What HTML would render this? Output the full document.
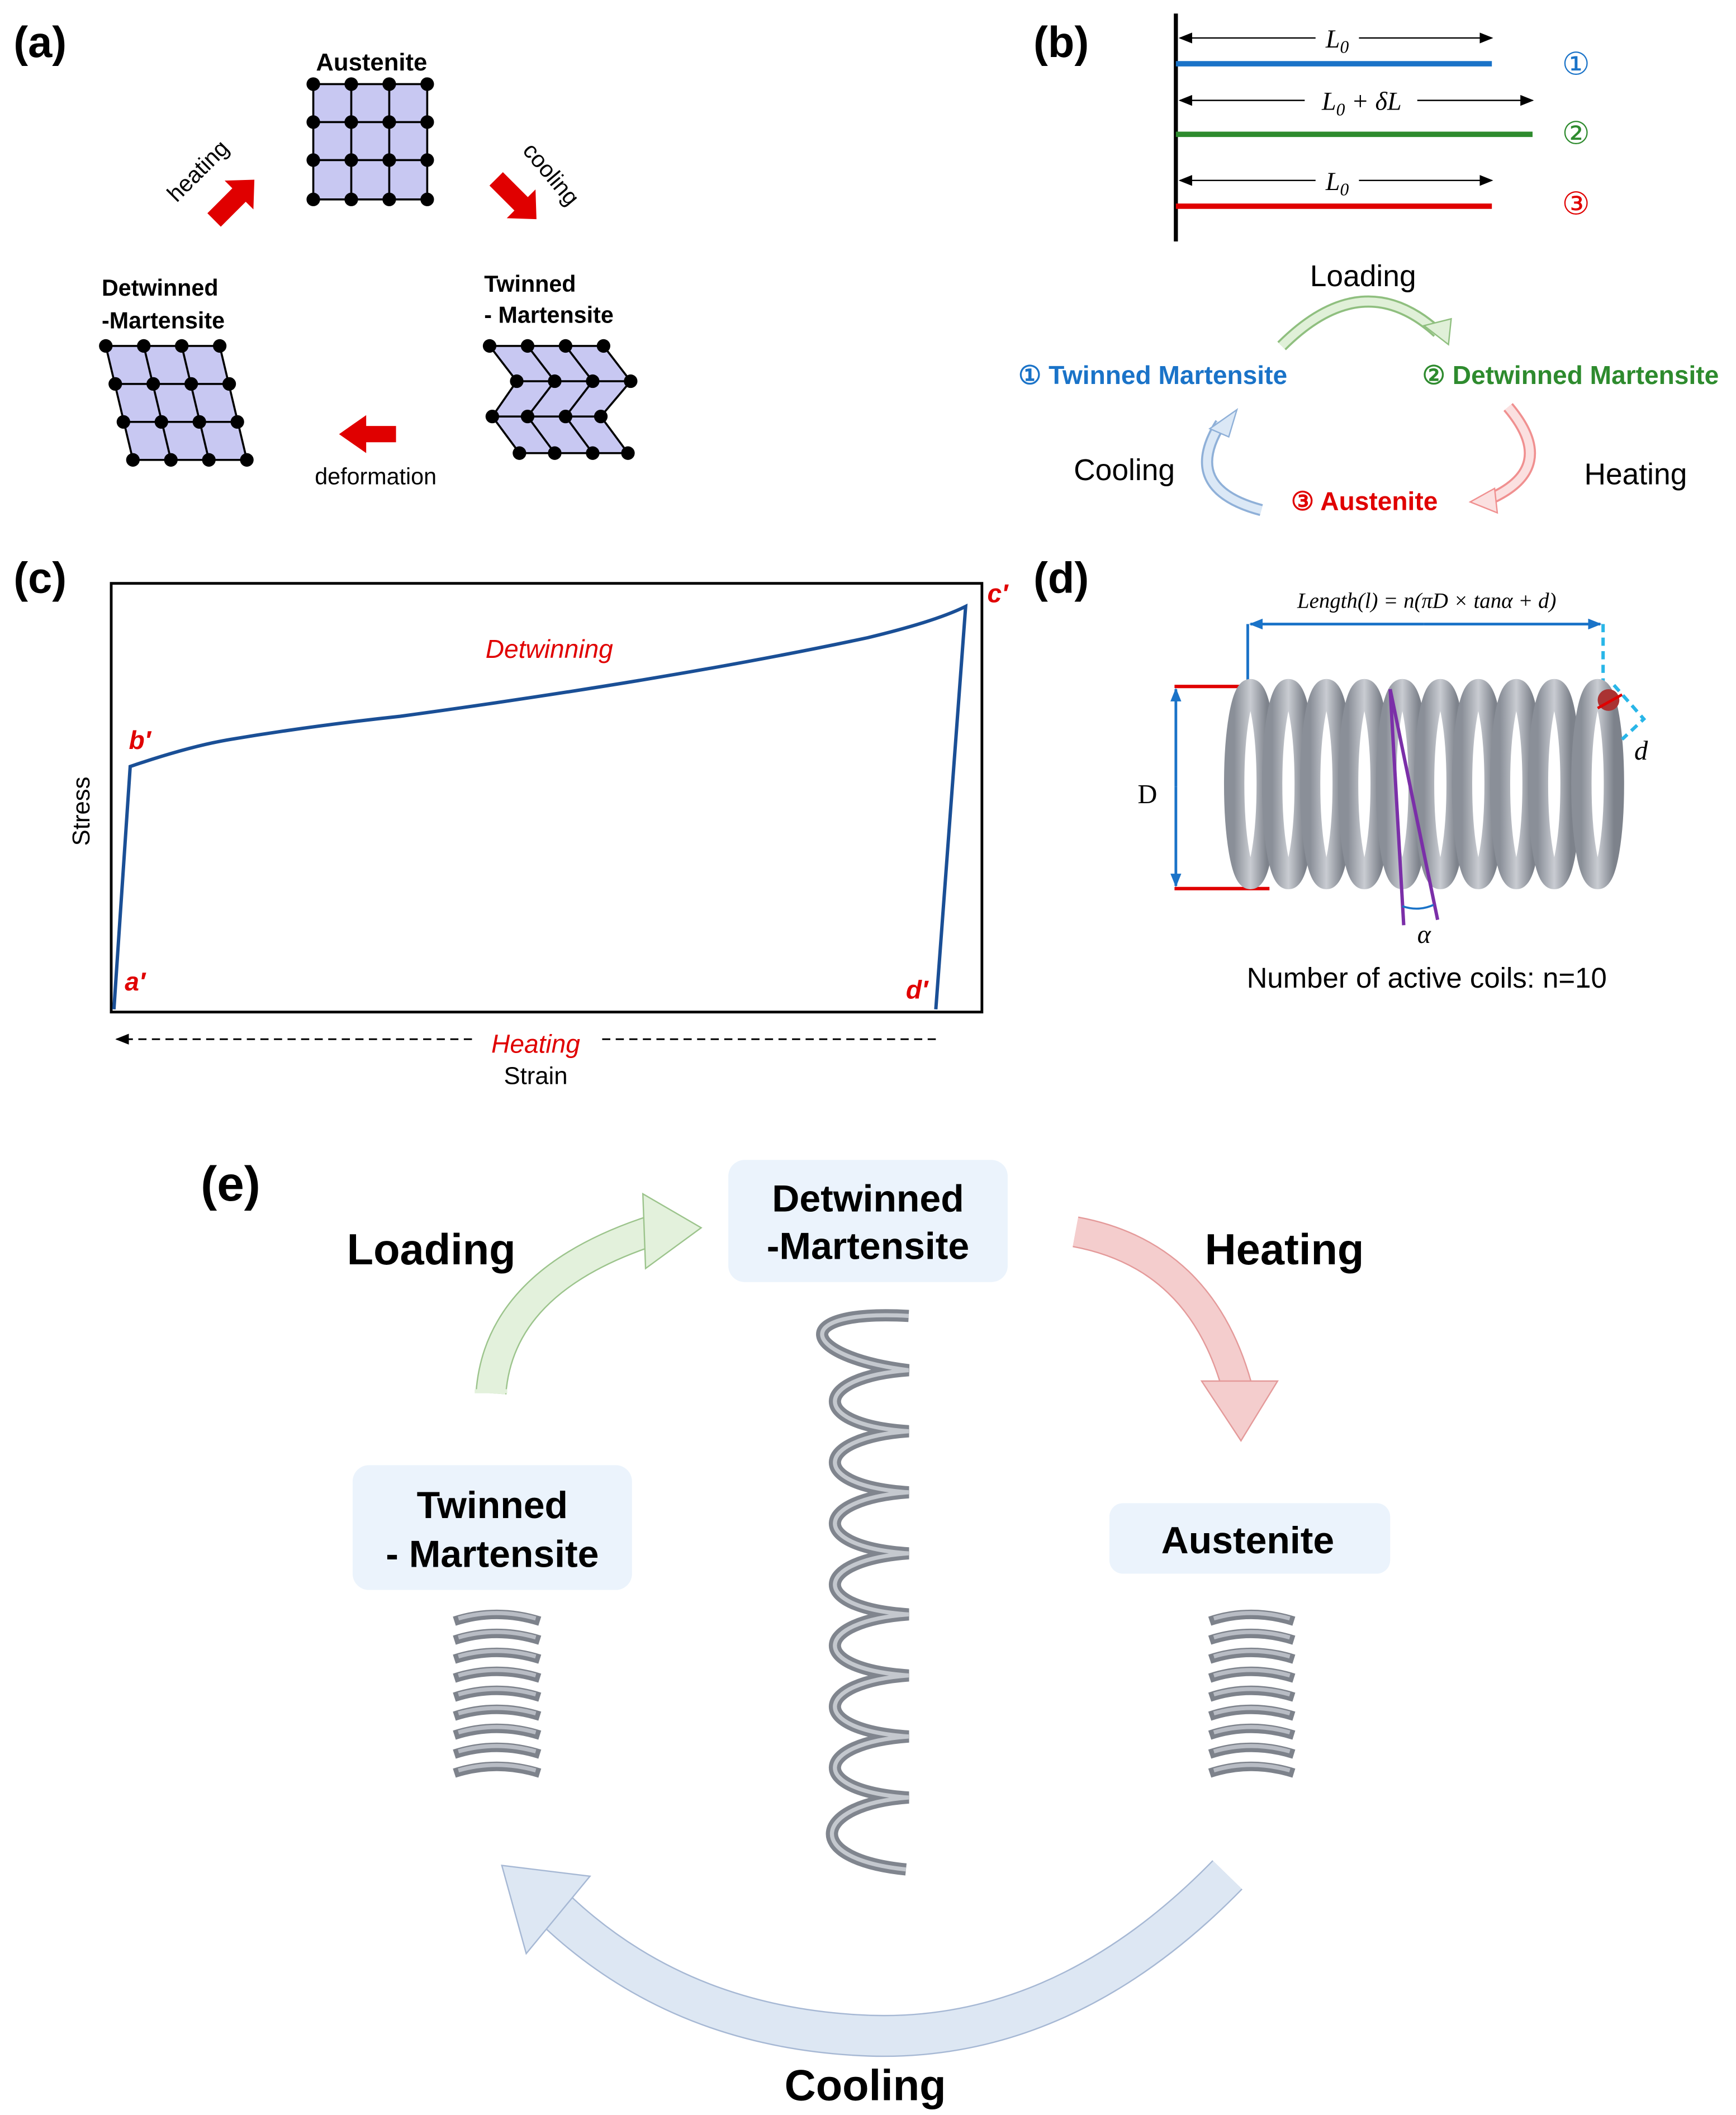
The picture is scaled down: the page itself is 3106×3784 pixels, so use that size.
<!DOCTYPE html>
<html><head><meta charset="utf-8"><style>
html,body{margin:0;padding:0;background:#fff;}
svg{display:block;}
text{font-family:"Liberation Sans",sans-serif;}
.s{font-family:"Liberation Serif",serif;font-style:italic;}
</style></head><body>
<svg width="3106" height="3784" viewBox="0 0 1280 1559" preserveAspectRatio="none" xmlns="http://www.w3.org/2000/svg">
<defs>
<marker id="ah" markerWidth="10" markerHeight="8" refX="9" refY="4" orient="auto" markerUnits="userSpaceOnUse"><path d="M0,0 L10,4 L0,8 z" fill="#000"/></marker>
<marker id="ahb" markerWidth="10" markerHeight="8" refX="9" refY="4" orient="auto" markerUnits="userSpaceOnUse"><path d="M0,0 L10,4 L0,8 z" fill="#1a73c8"/></marker>
<linearGradient id="sg" x1="0" y1="0" x2="1" y2="0"><stop offset="0" stop-color="#8a8f98"/><stop offset="0.5" stop-color="#c9ccd2"/><stop offset="1" stop-color="#7d828b"/></linearGradient>
</defs>

<!-- (a) -->
<text x="10" y="42" font-size="32" font-weight="bold">(a)</text>
<text x="274" y="52" font-size="18" font-weight="bold" text-anchor="middle">Austenite</text>
<g>
<rect x="231" y="62" width="84" height="85" fill="#c8c8f2" stroke="#000" stroke-width="1.5"/>
<path d="M259,62V147M287,62V147M231,90H315M231,118H315" stroke="#000" stroke-width="1.5"/>
<g fill="#000">
<circle cx="231" cy="62" r="5"/><circle cx="259" cy="62" r="5"/><circle cx="287" cy="62" r="5"/><circle cx="315" cy="62" r="5"/>
<circle cx="231" cy="90" r="5"/><circle cx="259" cy="90" r="5"/><circle cx="287" cy="90" r="5"/><circle cx="315" cy="90" r="5"/>
<circle cx="231" cy="118" r="5"/><circle cx="259" cy="118" r="5"/><circle cx="287" cy="118" r="5"/><circle cx="315" cy="118" r="5"/>
<circle cx="231" cy="147" r="5"/><circle cx="259" cy="147" r="5"/><circle cx="287" cy="147" r="5"/><circle cx="315" cy="147" r="5"/>
</g></g>
<g transform="translate(172,148) rotate(-45)"><path d="M-20,-7 H6 V-15 L22,0 L6,15 V7 H-20 z" fill="#e00000"/></g>
<text x="150" y="130" font-size="17" transform="rotate(-45 150 130)" text-anchor="middle">heating</text>
<g transform="translate(380,146) rotate(45)"><path d="M-20,-7 H6 V-15 L22,0 L6,15 V7 H-20 z" fill="#e00000"/></g>
<text x="402" y="132" font-size="17" transform="rotate(50 402 132)" text-anchor="middle">cooling</text>

<text x="75" y="218" font-size="17" font-weight="bold">Detwinned</text>
<text x="75" y="242" font-size="17" font-weight="bold">-Martensite</text>
<g stroke="#000" stroke-width="1.5">
<polygon points="78,255 162,255 182,339 98,339" fill="#c8c8f2"/>
<path d="M106,255L126,339M134,255L154,339M85,283H169M91,311H175" fill="none"/>
</g>
<g fill="#000">
<circle cx="78" cy="255" r="5"/><circle cx="106" cy="255" r="5"/><circle cx="134" cy="255" r="5"/><circle cx="162" cy="255" r="5"/>
<circle cx="85" cy="283" r="5"/><circle cx="113" cy="283" r="5"/><circle cx="141" cy="283" r="5"/><circle cx="169" cy="283" r="5"/>
<circle cx="91" cy="311" r="5"/><circle cx="119" cy="311" r="5"/><circle cx="147" cy="311" r="5"/><circle cx="175" cy="311" r="5"/>
<circle cx="98" cy="339" r="5"/><circle cx="126" cy="339" r="5"/><circle cx="154" cy="339" r="5"/><circle cx="182" cy="339" r="5"/>
</g>

<text x="357" y="215" font-size="17" font-weight="bold">Twinned</text>
<text x="357" y="238" font-size="17" font-weight="bold">- Martensite</text>
<g stroke="#000" stroke-width="1.5">
<polygon points="361,255 445,255 465,281 443,307 463,334 383,334 363,307 381,281" fill="#c8c8f2"/>
<path d="M389,255L409,281L389,307L409,334M417,255L437,281L417,307L437,334M381,281H465M363,307H443" fill="none"/>
</g>
<g fill="#000">
<circle cx="361" cy="255" r="5"/><circle cx="389" cy="255" r="5"/><circle cx="417" cy="255" r="5"/><circle cx="445" cy="255" r="5"/>
<circle cx="381" cy="281" r="5"/><circle cx="409" cy="281" r="5"/><circle cx="437" cy="281" r="5"/><circle cx="465" cy="281" r="5"/>
<circle cx="363" cy="307" r="5"/><circle cx="389" cy="307" r="5"/><circle cx="417" cy="307" r="5"/><circle cx="443" cy="307" r="5"/>
<circle cx="383" cy="334" r="5"/><circle cx="409" cy="334" r="5"/><circle cx="437" cy="334" r="5"/><circle cx="463" cy="334" r="5"/>
</g>
<path d="M292,314 H270 V306 L250,320 L270,334 V326 H292 z" fill="#e00000"/>
<text x="277" y="357" font-size="17" text-anchor="middle">deformation</text>

<!-- (b) -->
<text x="762" y="42" font-size="32" font-weight="bold">(b)</text>
<line x1="867" y1="10" x2="867" y2="178" stroke="#000" stroke-width="3"/>
<line x1="867" y1="47" x2="1100" y2="47" stroke="#1a73c8" stroke-width="4"/>
<line x1="867" y1="99" x2="1130" y2="99" stroke="#2e8b2e" stroke-width="4"/>
<line x1="867" y1="152" x2="1100" y2="152" stroke="#e00000" stroke-width="4"/>
<g stroke="#000" stroke-width="1">
<line x1="970" y1="28" x2="870" y2="28" marker-end="url(#ah)"/><line x1="1002" y1="28" x2="1100" y2="28" marker-end="url(#ah)"/>
<line x1="962" y1="74" x2="870" y2="74" marker-end="url(#ah)"/><line x1="1045" y1="74" x2="1130" y2="74" marker-end="url(#ah)"/>
<line x1="970" y1="133" x2="870" y2="133" marker-end="url(#ah)"/><line x1="1002" y1="133" x2="1100" y2="133" marker-end="url(#ah)"/>
</g>
<text x="986" y="35" font-size="19" class="s" text-anchor="middle">L<tspan font-size="13" dy="4">0</tspan></text>
<text x="1004" y="81" font-size="19" class="s" text-anchor="middle">L<tspan font-size="13" dy="4">0</tspan><tspan dy="-4"> + δL</tspan></text>
<text x="986" y="140" font-size="19" class="s" text-anchor="middle">L<tspan font-size="13" dy="4">0</tspan></text>
<text x="1162" y="55" font-size="23" fill="#1a73c8" text-anchor="middle">①</text>
<text x="1162" y="106" font-size="23" fill="#2e8b2e" text-anchor="middle">②</text>
<text x="1162" y="158" font-size="23" fill="#e00000" text-anchor="middle">③</text>
<text x="1005" y="211" font-size="22" text-anchor="middle">Loading</text>
<path d="M945,255 Q1005,195 1060,245" fill="none" stroke="#8fbf7f" stroke-width="9"/>
<path d="M945,255 Q1005,195 1060,245" fill="none" stroke="#e0f0d8" stroke-width="6"/>
<polygon points="1050,240 1068,254 1070,235" fill="#e0f0d8" stroke="#8fbf7f"/>
<text x="850" y="283" font-size="19" font-weight="bold" fill="#1a73c8" text-anchor="middle">① Twinned Martensite</text>
<text x="1158" y="283" font-size="19" font-weight="bold" fill="#2e8b2e" text-anchor="middle">② Detwinned Martensite</text>
<text x="829" y="354" font-size="22" text-anchor="middle">Cooling</text>
<path d="M930,376 Q870,360 900,312" fill="none" stroke="#8fb0d8" stroke-width="9"/>
<path d="M930,376 Q870,360 900,312" fill="none" stroke="#dbe8f6" stroke-width="6"/>
<polygon points="892,316 912,302 906,322" fill="#dbe8f6" stroke="#8fb0d8"/>
<text x="1006" y="376" font-size="19" font-weight="bold" fill="#e00000" text-anchor="middle">③ Austenite</text>
<text x="1206" y="357" font-size="22" text-anchor="middle">Heating</text>
<path d="M1112,300 Q1150,345 1098,368" fill="none" stroke="#f09090" stroke-width="9"/>
<path d="M1112,300 Q1150,345 1098,368" fill="none" stroke="#fbe0e0" stroke-width="6"/>
<polygon points="1102,360 1084,370 1104,378" fill="#fbe0e0" stroke="#f09090"/>

<!-- (c) -->
<text x="10" y="437" font-size="32" font-weight="bold">(c)</text>
<rect x="82" y="430" width="642" height="316" fill="none" stroke="#000" stroke-width="2"/>
<path d="M84,744 L96,565 Q140,550 170,545 Q230,535 295,528 Q500,500 640,470 Q690,458 712,447 L690,744" fill="none" stroke="#1a4f96" stroke-width="2.5"/>
<text x="405" y="485" font-size="19" fill="#e00000" font-style="italic" text-anchor="middle">Detwinning</text>
<g class="s" font-weight="bold" font-size="19" fill="#e00000">
<text x="95" y="552">b′</text><text x="728" y="444">c′</text><text x="92" y="730">a′</text><text x="668" y="736">d′</text></g>
<text x="66" y="598" font-size="18" transform="rotate(-90 66 598)" text-anchor="middle">Stress</text>
<line x1="690" y1="766" x2="442" y2="766" stroke="#000" stroke-width="1.2" stroke-dasharray="6,4"/>
<line x1="348" y1="766" x2="86" y2="766" stroke="#000" stroke-width="1.2" stroke-dasharray="6,4" marker-end="url(#ah)"/>
<text x="395" y="776" font-size="19" fill="#e00000" font-style="italic" text-anchor="middle">Heating</text>
<text x="395" y="799" font-size="18" text-anchor="middle">Strain</text>

<!-- (d) -->
<text x="762" y="437" font-size="32" font-weight="bold">(d)</text>
<text x="1052" y="448" font-size="16" class="s" text-anchor="middle">Length(l)  =  n(πD × tanα + d)</text>
<line x1="1050" y1="460" x2="922" y2="460" stroke="#1a73c8" stroke-width="2" marker-end="url(#ahb)"/>
<line x1="1050" y1="460" x2="1180" y2="460" stroke="#1a73c8" stroke-width="2" marker-end="url(#ahb)"/>
<line x1="920" y1="460" x2="920" y2="506" stroke="#1a73c8" stroke-width="2"/>
<line x1="1182" y1="460" x2="1182" y2="510" stroke="#29b6e8" stroke-width="2.5" stroke-dasharray="6,4"/>
<line x1="866" y1="506" x2="921" y2="506" stroke="#e00000" stroke-width="2.5"/>
<line x1="866" y1="655" x2="936" y2="655" stroke="#e00000" stroke-width="2.5"/>
<line x1="867" y1="580" x2="867" y2="508" stroke="#1a73c8" stroke-width="2" marker-end="url(#ahb)"/>
<line x1="867" y1="580" x2="867" y2="653" stroke="#1a73c8" stroke-width="2" marker-end="url(#ahb)"/>
<text x="846" y="592" font-size="20" text-anchor="middle" style="font-family:'Liberation Serif',serif">D</text>
<g fill="none" stroke="url(#sg)" stroke-width="15">
<ellipse cx="922" cy="578" rx="12" ry="70"/><ellipse cx="950" cy="578" rx="12" ry="70"/><ellipse cx="978" cy="578" rx="12" ry="70"/>
<ellipse cx="1006" cy="578" rx="12" ry="70"/><ellipse cx="1034" cy="578" rx="12" ry="70"/><ellipse cx="1062" cy="578" rx="12" ry="70"/>
<ellipse cx="1090" cy="578" rx="12" ry="70"/><ellipse cx="1118" cy="578" rx="12" ry="70"/><ellipse cx="1146" cy="578" rx="12" ry="70"/>
<ellipse cx="1178" cy="578" rx="12" ry="70"/>
</g>
<circle cx="1186" cy="516" r="8" fill="#a33"/>
<line x1="1178" y1="522" x2="1196" y2="512" stroke="#e00000" stroke-width="2"/>
<path d="M1190,505 L1212,530 L1196,545" fill="none" stroke="#29b6e8" stroke-width="2.5" stroke-dasharray="6,4"/>
<text x="1210" y="560" font-size="20" class="s" text-anchor="middle">d</text>
<line x1="1025" y1="508" x2="1035" y2="682" stroke="#7b2fa8" stroke-width="2.5"/>
<line x1="1025" y1="508" x2="1060" y2="678" stroke="#7b2fa8" stroke-width="2.5"/>
<path d="M1034,668 Q1046,672 1057,667" fill="none" stroke="#1a73c8" stroke-width="1.5"/>
<text x="1050" y="695" font-size="19" class="s" text-anchor="middle">α</text>
<text x="1052" y="728" font-size="21" text-anchor="middle">Number of active coils: n=10</text>

<!-- (e) -->
<text x="148" y="885" font-size="36" font-weight="bold">(e)</text>
<rect x="537" y="855" width="206" height="90" rx="12" fill="#ebf3fc"/>
<text x="640" y="893" font-size="28" font-weight="bold" text-anchor="middle">Detwinned</text>
<text x="640" y="928" font-size="28" font-weight="bold" text-anchor="middle">-Martensite</text>
<rect x="260" y="1080" width="206" height="92" rx="12" fill="#ebf3fc"/>
<text x="363" y="1119" font-size="28" font-weight="bold" text-anchor="middle">Twinned</text>
<text x="363" y="1155" font-size="28" font-weight="bold" text-anchor="middle">- Martensite</text>
<rect x="818" y="1108" width="207" height="52" rx="10" fill="#ebf3fc"/>
<text x="920" y="1145" font-size="28" font-weight="bold" text-anchor="middle">Austenite</text>
<text x="318" y="932" font-size="32" font-weight="bold" text-anchor="middle">Loading</text>
<text x="947" y="932" font-size="32" font-weight="bold" text-anchor="middle">Heating</text>
<text x="638" y="1548" font-size="32" font-weight="bold" text-anchor="middle">Cooling</text>

<path d="M362,1027 Q368,945 478,908" fill="none" stroke="#9cc48c" stroke-width="23"/>
<path d="M362,1027 Q368,945 478,908" fill="none" stroke="#e3f1dc" stroke-width="21"/>
<polygon points="474,880 517,905 476,935" fill="#e3f1dc" stroke="#9cc48c"/>
<rect x="350" y="1024" width="24" height="3" fill="#e3f1dc"/>
<path d="M793,908 Q885,925 912,1022" fill="none" stroke="#e49a9a" stroke-width="23"/>
<path d="M793,908 Q885,925 912,1022" fill="none" stroke="#f4cdcd" stroke-width="21"/>
<polygon points="886,1018 942,1018 915,1062" fill="#f4cdcd" stroke="#e49a9a"/>
<path d="M905,1382 Q780,1510 630,1500 Q500,1492 412,1410" fill="none" stroke="#a6b8d4" stroke-width="31"/>
<path d="M905,1382 Q780,1510 630,1500 Q500,1492 412,1410" fill="none" stroke="#dde7f3" stroke-width="29"/>
<polygon points="370,1375 435,1383 388,1440" fill="#dde7f3" stroke="#a6b8d4"/>

<g fill="none" stroke="#7d828b" stroke-width="7">
<path d="M335,1195 Q366,1185 398,1195 M335,1209 Q366,1199 398,1209 M335,1223 Q366,1213 398,1223 M335,1237 Q366,1227 398,1237 M335,1251 Q366,1241 398,1251 M335,1265 Q366,1255 398,1265 M335,1279 Q366,1269 398,1279 M335,1293 Q366,1283 398,1293 M335,1307 Q366,1297 398,1307"/>
<path d="M892,1195 Q922,1185 954,1195 M892,1209 Q922,1199 954,1209 M892,1223 Q922,1213 954,1223 M892,1237 Q922,1227 954,1237 M892,1251 Q922,1241 954,1251 M892,1265 Q922,1255 954,1265 M892,1279 Q922,1269 954,1279 M892,1293 Q922,1283 954,1293 M892,1307 Q922,1297 954,1307"/>
</g>
<g fill="none" stroke="#b8bcc4" stroke-width="3">
<path d="M338,1193 Q366,1185 395,1193 M338,1207 Q366,1199 395,1207 M338,1221 Q366,1213 395,1221 M338,1235 Q366,1227 395,1235 M338,1249 Q366,1241 395,1249 M338,1263 Q366,1255 395,1263 M338,1277 Q366,1269 395,1277 M338,1291 Q366,1283 395,1291 M338,1305 Q366,1297 395,1305"/>
<path d="M895,1193 Q922,1185 951,1193 M895,1207 Q922,1199 951,1207 M895,1221 Q922,1213 951,1221 M895,1235 Q922,1227 951,1235 M895,1249 Q922,1241 951,1249 M895,1263 Q922,1255 951,1263 M895,1277 Q922,1269 951,1277 M895,1291 Q922,1283 951,1291 M895,1305 Q922,1297 951,1305"/>
</g>
<path d="M670,970 C580,965 590,1000 670,1010 C600,1015 595,1050 670,1055 C600,1060 595,1095 670,1100 C600,1105 595,1140 670,1145 C600,1150 595,1185 670,1190 C600,1195 595,1230 670,1235 C600,1240 595,1275 670,1280 C600,1285 595,1320 670,1325 C600,1330 590,1370 668,1378" fill="none" stroke="#80858e" stroke-width="9"/>
<path d="M670,970 C580,965 590,1000 670,1010 C600,1015 595,1050 670,1055 C600,1060 595,1095 670,1100 C600,1105 595,1140 670,1145 C600,1150 595,1185 670,1190 C600,1195 595,1230 670,1235 C600,1240 595,1275 670,1280 C600,1285 595,1320 670,1325 C600,1330 590,1370 668,1378" fill="none" stroke="#c4c8ce" stroke-width="3"/>
</svg>
</body></html>
